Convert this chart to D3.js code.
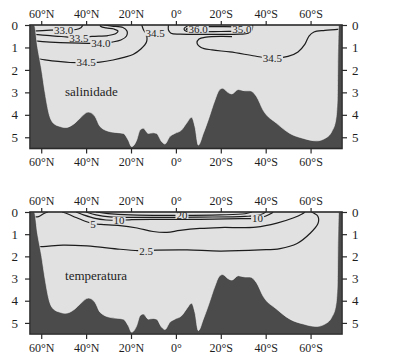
<!DOCTYPE html>
<html lang="pt">
<head>
<meta charset="UTF-8">
<title>Salinidade e temperatura</title>
<script src="https://cdn.jsdelivr.net/npm/d3@7"></script>
<style>
    body { margin: 0; background: #fff; }
</style>
</head>
<body>
<div id="mainContent"></div>
<script>
    // tick values (latitude: + north, - south; depth in km)
    const latTicks = [60, 40, 20, 0, -20, -40, -60];
    const depthTicks = [0, 1, 2, 3, 4, 5];

    // sea floor profile [lat, depth]
    const floorProfile = [[65, 0], [63.1, 0], [61.6, 1], [59.8, 2], [58.3, 3], [56.4, 4], [54.6, 4.37],
        [51.6, 4.52], [49.4, 4.57], [45, 4.37], [42.7, 4.15], [39, 3.88], [36, 4.08], [33.8, 4.52],
        [29.4, 4.75], [23.4, 4.83], [21.2, 5.13], [19.7, 5.42], [17.5, 5.13], [16, 4.68], [14.5, 4.6],
        [12.3, 4.83], [10.1, 4.8], [8.6, 4.83], [6.3, 5.2], [4.9, 5.3], [2.7, 4.97], [0.5, 4.83],
        [-2.5, 4.68], [-4.7, 4.38], [-7, 4.11], [-8.5, 4.53], [-10, 5.35], [-12.2, 4.83], [-14.4, 4.23],
        [-17.4, 3.34], [-19.3, 2.9], [-20.8, 2.82], [-23.3, 3.01], [-24.9, 3.07], [-27.8, 2.87],
        [-30.8, 2.93], [-33, 2.93], [-36, 3.2], [-38.9, 3.8], [-44.9, 4.38], [-50.8, 4.83],
        [-56.8, 5.05], [-62.7, 5.16], [-66.4, 5.05], [-69.4, 4.75], [-71.2, 4.23], [-71.9, 3.34],
        [-72.1, 1.86], [-72.4, 0.22], [-72.5, 0], [-74, 0]];

    // salinity contours [lat, depth]
    const sal330 = [[64, 0.27], [56, 0.23], [50, 0.21], [44.5, 0.2], [42.3, 0.12], [41.4, 0]];
    const sal335 = [[64, 0.42], [56.1, 0.47], [49, 0.53], [43.2, 0.58], [37.4, 0.51], [30.3, 0.47],
        [26.7, 0.38], [25.8, 0.27], [27.6, 0.18], [31.1, 0.13], [33.4, 0.07], [33.8, 0]];
    const sal340 = [[64, 0.71], [56.1, 0.76], [47.2, 0.8], [39.2, 0.82], [33.4, 0.82], [28.5, 0.76],
        [24.5, 0.67], [22, 0.49], [21.8, 0.27], [23.6, 0.11], [28.5, 0.05], [32.1, 0]];
    const sal345a = [[64, 1.47], [58.3, 1.55], [52.5, 1.62], [47.2, 1.67], [40, 1.67], [33.8, 1.65],
        [28, 1.56], [22.7, 1.43], [19.1, 1.31], [15.6, 1.07], [13.1, 0.76], [13.1, 0.45], [14.5, 0.2], [15.2, 0]];
    const sal350 = [[3.3, 0], [3.3, 0.22], [2.2, 0.37], [-1.9, 0.41], [-15.2, 0.42], [-28.6, 0.41],
        [-32.2, 0.37], [-33.9, 0.22], [-34.2, 0]];
    const sal355 = [[-29, 0.08], [-15, 0.07], [-8, 0.05], [-4.8, 0.07], [-3.6, 0.18], [-4.8, 0.29],
        [-10, 0.3], [-20, 0.29], [-29, 0.28]];
    const sal360 = [[-9.5, 0.14], [-6.5, 0.14], [-5, 0.16], [-4.6, 0.19], [-5, 0.22], [-6.5, 0.24], [-9.5, 0.24]];
    const sal345b = [[-25, 0.52], [-20.5, 0.51], [-13.4, 0.54], [-10.3, 0.62], [-9.4, 0.8], [-11.2, 1.0],
        [-16.1, 1.11], [-24.1, 1.2], [-35.2, 1.38], [-43, 1.49], [-49.9, 1.4], [-54.4, 1.2],
        [-57.5, 0.85], [-59.3, 0.49], [-61.5, 0.31], [-66.4, 0.24], [-73, 0.18]];
    const salLabels = [["33.0", 50, 0.21], ["33.5", 43.2, 0.58], ["34.0", 33.4, 0.82], ["34.5", 40, 1.67],
        ["34.5", 9.2, 0.36], ["36.0", -9.9, 0.19], ["35.0", -29.4, 0.19], ["34.5", -43, 1.49]];

    // temperature contours [lat, depth]
    const tmpWall = [[64, 0.21], [61.2, 0.21], [58.8, 0.07], [57, 0]];
    const tmp25 = [[64, 1.56], [59.2, 1.56], [50.3, 1.49], [39.6, 1.53], [24.9, 1.68], [16.9, 1.74],
        [13.3, 1.74], [8.4, 1.72], [-5, 1.71], [-19.6, 1.76], [-37.5, 1.71], [-46.4, 1.65], [-54, 1.42],
        [-59.7, 0.97], [-63.3, 0.52], [-63.3, 0.2], [-61.7, 0.07], [-60.4, 0]];
    const tmp50 = [[50.7, 0], [48.1, 0.09], [44.5, 0.25], [40.1, 0.43], [36.9, 0.52], [33.4, 0.56],
        [24.9, 0.61], [17.3, 0.72], [10.2, 0.88], [4, 0.92], [-1.8, 0.83], [-10.7, 0.74], [-19.6, 0.7],
        [-35.7, 0.68], [-45, 0.5], [-52.2, 0.27], [-56.2, 0.09], [-57.5, 0]];
    const tmp100 = [[44.5, 0], [40.9, 0.14], [36, 0.29], [31.1, 0.36], [25.3, 0.38], [19.6, 0.34],
        [7.1, 0.33], [-10.7, 0.33], [-28.6, 0.3], [-36.4, 0.28], [-40.1, 0.18], [-42.4, 0.07], [-43.3, 0]];
    const tmp150 = [[40.1, 0], [35.6, 0.13], [29.4, 0.22], [16, 0.24], [-10.7, 0.23], [-30.8, 0.2],
        [-37.5, 0.13], [-40.1, 0]];
    const tmp200 = [[35.6, 0], [30.2, 0.07], [20.4, 0.13], [-2.7, 0.15], [-19.6, 0.13], [-30.8, 0.08], [-33.9, 0]];
    const tmpLabels = [["5", 36.9, 0.52], ["10", 25.3, 0.38], ["2.5", 13.3, 1.74], ["20", -2.7, 0.15], ["10", -36.4, 0.28]];

    const seaColor = "#e1e1e1", groundColor = "#4b4b4b", lineColor = "#1c1c1c";
    const serif = "'Liberation Serif'";

    const W = 396, H = 361;
    const plotLeft = 30, plotRight = 342;

    const xScale = d3.scaleLinear().domain([65, -74]).range([plotLeft, plotRight]);

    function latLabel(d) {
        if (d === 0) return "0°";
        return Math.abs(d) + "°" + (d > 0 ? "N" : "S");
    }

    let svg = d3.select("#mainContent").append("svg")
        .attr("width", W)
        .attr("height", H);

    function drawPanel(id, top, bottom, contours, labels, title, titleDepth) {
        const yScale = d3.scaleLinear().domain([0, 5.5]).range([top, bottom]);
        const g = svg.append("g").attr("id", id);

        svg.append("clipPath").attr("id", id + "Clip")
            .append("rect")
            .attr("x", plotLeft).attr("y", top)
            .attr("width", plotRight - plotLeft).attr("height", bottom - top);

        // sea
        g.append("rect")
            .attr("x", plotLeft).attr("y", top)
            .attr("width", plotRight - plotLeft).attr("height", bottom - top)
            .attr("fill", seaColor);

        // contour lines
        const lineGen = d3.line()
            .x(d => xScale(d[0]))
            .y(d => yScale(d[1]))
            .curve(d3.curveCatmullRom.alpha(0.5));

        g.append("g").attr("clip-path", "url(#" + id + "Clip)")
            .selectAll("path").data(contours).enter()
            .append("path")
            .attr("d", lineGen)
            .attr("fill", "none")
            .attr("stroke", lineColor)
            .attr("stroke-width", 1.2);

        // contour labels with a gap in the line
        const lab = g.append("g").selectAll("g").data(labels).enter().append("g")
            .attr("transform", d => "translate(" + xScale(d[1]) + "," + yScale(d[2]) + ")");
        lab.append("rect").attr("fill", seaColor);
        lab.append("text")
            .text(d => d[0])
            .attr("text-anchor", "middle")
            .attr("dy", "0.36em")
            .style("font-family", serif)
            .style("font-size", "11px")
            .attr("fill", "#1e1e1e");
        lab.each(function () {
            const t = d3.select(this).select("text").node();
            const w = t.getComputedTextLength();
            d3.select(this).select("rect")
                .attr("x", -w / 2 - 1).attr("y", -3.5)
                .attr("width", w + 2).attr("height", 7);
        });

        // sea floor
        const areaGen = d3.area()
            .x(d => xScale(d[0]))
            .y0(yScale(5.5))
            .y1(d => yScale(d[1]))
            .curve(d3.curveMonotoneX);

        g.append("path")
            .datum(floorProfile)
            .attr("d", areaGen)
            .attr("fill", groundColor)
            .attr("stroke", "#f2f2f2")
            .attr("stroke-width", 0.6)
            .attr("clip-path", "url(#" + id + "Clip)");

        // frame
        g.append("rect")
            .attr("x", plotLeft).attr("y", top)
            .attr("width", plotRight - plotLeft).attr("height", bottom - top)
            .attr("fill", "none")
            .attr("stroke", "#2a2a2a")
            .attr("stroke-width", 1.6);

        // axes
        const axisTop = d3.axisTop(xScale).tickValues(latTicks).tickFormat(latLabel).tickSize(4).tickPadding(3);
        const axisBottom = d3.axisBottom(xScale).tickValues(latTicks).tickFormat(latLabel).tickSize(5).tickPadding(4);
        const axisLeft = d3.axisLeft(yScale).tickValues(depthTicks).tickFormat(d3.format("d")).tickSize(5).tickPadding(7);
        const axisRight = d3.axisRight(yScale).tickValues(depthTicks).tickFormat(d3.format("d")).tickSize(5).tickPadding(5);

        const styleAxis = function (sel, size) {
            sel.attr("font-family", null).attr("font-size", null);
            sel.select(".domain").remove();
            sel.selectAll(".tick line").attr("stroke", "#2a2a2a").attr("stroke-width", 1.2);
            sel.selectAll(".tick text")
                .attr("fill", "#1e1e1e")
                .style("font-family", serif)
                .style("font-size", size + "px");
        };

        g.append("g").attr("transform", "translate(0," + top + ")").call(axisTop).call(styleAxis, 12);
        g.append("g").attr("transform", "translate(0," + bottom + ")").call(axisBottom).call(styleAxis, 12);
        g.append("g").attr("transform", "translate(" + plotLeft + ",0)").call(axisLeft).call(styleAxis, 13);
        g.append("g").attr("transform", "translate(" + plotRight + ",0)").call(axisRight).call(styleAxis, 13);

        g.append("text")
            .text(title)
            .attr("x", xScale(49.4))
            .attr("y", yScale(titleDepth))
            .attr("fill", "#1e1e1e")
            .style("font-family", serif)
            .style("font-size", "13px");
    }

    drawPanel("salinidade", 25, 148.5,
        [sal330, sal335, sal340, sal345a, sal350, sal355, sal360, sal345b],
        salLabels, "salinidade", 3.16);

    drawPanel("temperatura", 212, 334,
        [tmpWall, tmp25, tmp50, tmp100, tmp150, tmp200],
        tmpLabels, "temperatura", 3.07);
</script>
</body>
</html>
